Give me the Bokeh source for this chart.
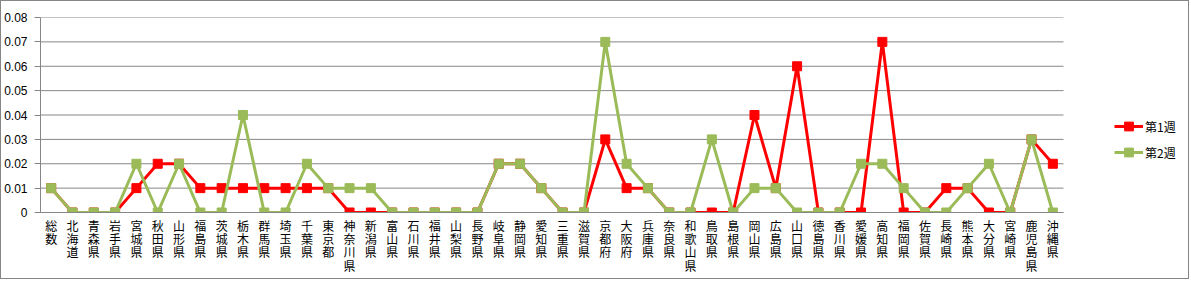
from bokeh.plotting import figure
from bokeh.models import Range1d, FixedTicker, Legend, LegendItem
from bokeh.embed import file_html
from bokeh.resources import INLINE

categories = ["総数", "北海道", "青森県", "岩手県", "宮城県", "秋田県", "山形県", "福島県",
              "茨城県", "栃木県", "群馬県", "埼玉県", "千葉県", "東京都", "神奈川県", "新潟県",
              "富山県", "石川県", "福井県", "山梨県", "長野県", "岐阜県", "静岡県", "愛知県",
              "三重県", "滋賀県", "京都府", "大阪府", "兵庫県", "奈良県", "和歌山県", "鳥取県",
              "島根県", "岡山県", "広島県", "山口県", "徳島県", "香川県", "愛媛県", "高知県",
              "福岡県", "佐賀県", "長崎県", "熊本県", "大分県", "宮崎県", "鹿児島県", "沖縄県"]

week1 = [0.01, 0, 0, 0, 0.01, 0.02, 0.02, 0.01,
         0.01, 0.01, 0.01, 0.01, 0.01, 0.01, 0, 0,
         0, 0, 0, 0, 0, 0.02, 0.02, 0.01,
         0, 0, 0.03, 0.01, 0.01, 0, 0, 0,
         0, 0.04, 0.01, 0.06, 0, 0, 0, 0.07,
         0, 0, 0.01, 0.01, 0, 0, 0.03, 0.02]

week2 = [0.01, 0, 0, 0, 0.02, 0, 0.02, 0,
         0, 0.04, 0, 0, 0.02, 0.01, 0.01, 0.01,
         0, 0, 0, 0, 0, 0.02, 0.02, 0.01,
         0, 0, 0.07, 0.02, 0.01, 0, 0, 0.03,
         0, 0.01, 0.01, 0, 0, 0, 0.02, 0.02,
         0.01, 0, 0, 0.01, 0.02, 0, 0.03, 0]

series_names = ["第1週", "第2週"]
y_ticks = [0, 0.01, 0.02, 0.03, 0.04, 0.05, 0.06, 0.07, 0.08]
y_tick_labels = ["0", "0.01", "0.02", "0.03", "0.04", "0.05", "0.06", "0.07", "0.08"]

GRID = "#868686"
RED = "#FF0000"
GREEN = "#9BBB59"
JP = "Noto Sans CJK JP"
JP_STACK = "'Liberation Sans', 'Noto Sans CJK JP'"

# category slots along a numeric axis; the plot frame also covers the legend area
n = len(categories)
x_pos = [i + 0.5 for i in range(n)]
x_labels = ["\n".join(c) for c in categories]   # vertical (stacked) labels
CANVAS_W, CANVAS_H = 1189, 279
LEFT, RIGHT, TOP, BOTTOM = 39, 1, 16, 68
CAT_AREA_PX = 1023                                # width of the category area
x_end = (CANVAS_W - LEFT - RIGHT) * n / CAT_AREA_PX

p = figure(width=CANVAS_W, height=CANVAS_H,
           x_range=Range1d(0, x_end), y_range=Range1d(0, 0.08),
           output_backend="svg", toolbar_location=None,
           min_border_left=LEFT, min_border_right=RIGHT,
           min_border_top=TOP, min_border_bottom=BOTTOM)
p.styles = {"border": "1px solid #868686"}
p.outline_line_color = None
p.background_fill_color = "white"
p.border_fill_color = "white"

# horizontal gridlines across the category area only
p.segment(x0=[0] * len(y_ticks), y0=y_ticks, x1=[n] * len(y_ticks), y1=y_ticks,
          line_color=GRID, line_width=1)

l1 = p.line(x_pos, week1, line_color=RED, line_width=3)
s1 = p.scatter(x_pos, week1, marker="square", size=9, fill_color=RED, line_color=RED)
l2 = p.line(x_pos, week2, line_color=GREEN, line_width=3)
s2 = p.scatter(x_pos, week2, marker="square", size=9, fill_color=GREEN, line_color=GREEN)

# y axis
yax = p.yaxis[0]
yax.ticker = FixedTicker(ticks=y_ticks)
yax.major_label_overrides = dict(zip(y_ticks, y_tick_labels))
yax.axis_line_color = GRID
yax.major_tick_line_color = GRID
yax.major_tick_out = 6
yax.major_tick_in = 0
yax.minor_tick_line_color = None
yax.major_label_standoff = 7
yax.major_label_text_font = "Liberation Sans"
yax.major_label_text_font_size = "12px"
yax.major_label_text_color = "#000000"

# x axis
xax = p.xaxis[0]
xax.ticker = FixedTicker(ticks=x_pos)
xax.major_label_overrides = dict(zip(x_pos, x_labels))
xax.bounds = (0, n)
xax.axis_line_color = GRID
xax.major_tick_line_color = None
xax.major_tick_out = 0
xax.major_tick_in = 0
xax.minor_tick_line_color = None
xax.major_label_standoff = 7
xax.major_label_orientation = "horizontal"
xax.major_label_text_font = JP_STACK
xax.major_label_text_font_size = "12px"
xax.major_label_text_line_height = 0.96
xax.major_label_text_color = "#000000"

p.xgrid.visible = False
p.ygrid.visible = False

legend = Legend(items=[LegendItem(label=series_names[0], renderers=[l1, s1]),
                       LegendItem(label=series_names[1], renderers=[l2, s2])],
                location=(1074, 49), orientation="vertical",
                glyph_width=29, glyph_height=22, spacing=4, padding=0, margin=0,
                label_standoff=2, border_line_color=None, background_fill_alpha=0,
                label_text_font=JP, label_text_font_size="12px",
                label_text_color="#000000")
p.add_layout(legend, "center")

open("out.html", "w").write(file_html(p, INLINE))
